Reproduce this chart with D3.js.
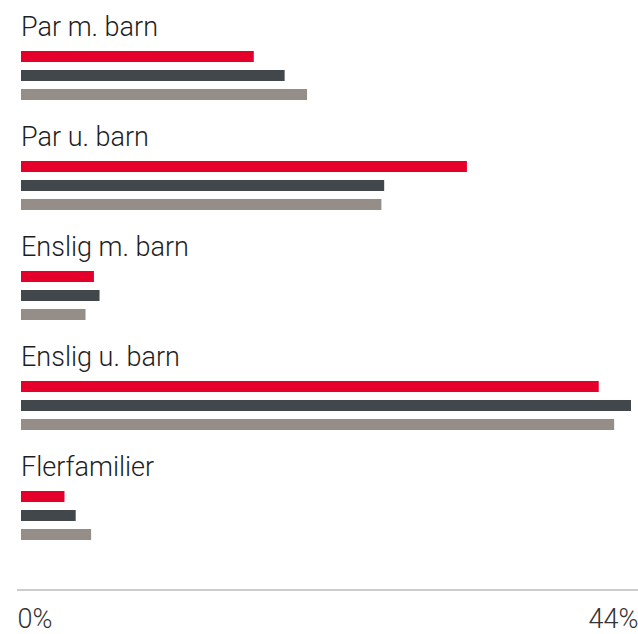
<!DOCTYPE html>
<html>
<head>
<meta charset="utf-8">
<script src="https://cdn.jsdelivr.net/npm/d3@7"></script>
<style>
  body { margin: 0; background: #fff; }
  svg { display: block; }
</style>
</head>
<body>
<div id="chart"></div>
<script>
// household types and three series (red, dark, grey), values in %
const categories = ["Par m. barn", "Par u. barn", "Enslig m. barn", "Enslig u. barn", "Flerfamilier"];
const seriesNames = ["a", "b", "c"];
const valuesA = [16.6, 31.8, 5.2, 41.2, 3.1];
const valuesB = [18.8, 25.9, 5.6, 43.5, 3.9];
const valuesC = [20.4, 25.7, 4.6, 42.3, 5.0];
const axisTicks = [0, 44];

const colors = ["#e4002b", "#41474a", "#948d88"];

const width = 638, height = 634;
const svg = d3.select("#chart").append("svg")
    .attr("width", width)
    .attr("height", height);

const x = d3.scaleLinear()
    .domain([0, 44])
    .range([21, 638]);

// each group: label row + 3 bars
const group = d3.scaleBand()
    .domain(categories)
    .range([0, 550]);

const bar = d3.scaleBand()
    .domain(seriesNames)
    .range([47, 104])
    .paddingInner(0.42)
    .paddingOuter(0.21);

const allSeries = [valuesA, valuesB, valuesC];

const g = svg.selectAll(".grp")
    .data(categories)
    .join("g")
    .attr("class", "grp")
    .attr("transform", d => "translate(0," + group(d) + ")");

g.append("text")
    .attr("x", 21)
    .attr("y", 36)
    .attr("font-family", "Roboto, sans-serif")
    .attr("font-weight", 300)
    .attr("font-size", 27)
    .attr("fill", "#1e1e1e")
    .text(d => d);

g.selectAll("rect")
    .data((d, i) => allSeries.map((s, j) => ({ name: seriesNames[j], value: s[i], color: colors[j] })))
    .join("rect")
    .attr("x", x(0))
    .attr("y", d => bar(d.name))
    .attr("height", bar.bandwidth())
    .attr("width", d => x(d.value) - x(0))
    .attr("fill", d => d.color);

// bottom axis
const axisG = svg.append("g")
    .attr("transform", "translate(0,590)")
    .call(d3.axisBottom(x)
        .tickValues(axisTicks)
        .tickSize(0)
        .tickPadding(0)
        .tickFormat(d => d + "%"));

axisG.select(".domain").remove();
axisG.append("line")
    .attr("x1", 17)
    .attr("x2", 638)
    .attr("stroke", "#9a9a9a")
    .attr("stroke-width", 1);

// keep the labels' descent inside the 634px frame
axisG.selectAll(".tick text")
    .attr("font-family", "Roboto, sans-serif")
    .attr("font-weight", 300)
    .attr("font-size", 27)
    .attr("fill", "#333")
    .attr("dy", 0)
    .attr("y", 38)
    .attr("text-anchor", (d, i) => i === 0 ? "start" : "end")
    .attr("dx", (d, i) => i === 0 ? -4 : 0);
</script>
</body>
</html>
